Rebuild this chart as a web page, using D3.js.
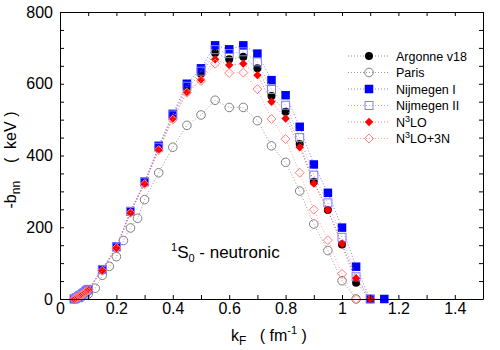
<!DOCTYPE html>
<html>
<head>
<meta charset="utf-8">
<script src="https://cdn.jsdelivr.net/npm/d3@7"></script>
<style>
  body { margin: 0; background: #fff; }
  svg text { font-family: "Liberation Sans", Arial, Helvetica, sans-serif; fill: #000; }
</style>
</head>
<body>
<div id="chart"></div>
<script>
// Dados do gráfico //
const kMain = [0.05, 0.055, 0.06, 0.065, 0.07, 0.075, 0.08, 0.085, 0.09, 0.095, 0.1,
  0.15, 0.2, 0.25, 0.3, 0.35, 0.4, 0.45, 0.5, 0.55, 0.6, 0.65, 0.7, 0.75, 0.8, 0.85,
  0.9, 0.95, 1.0, 1.05, 1.1, 1.15]
const argonne = [0, 2, 4, 6, 9, 11, 14, 16, 19, 23, 26,
  80, 143, 242, 324, 420, 510, 587, 628, 686, 668, 675, 643, 566, 522, 432,
  327, 248, 152, 45, 0, null]
const nijmegen1 = [0, 2, 4, 6, 9, 11, 14, 17, 20, 24, 27,
  83, 146, 245, 327, 427, 516, 600, 643, 707, 696, 707, 684, 610, 568, 480,
  375, 296, 199, 90, 0, 0]
const nijmegen2 = [0, 2, 4, 6, 9, 11, 14, 17, 20, 24, 27,
  82, 145, 244, 326, 423, 513, 593, 635, 695, 684, 689, 661, 584, 540, 450,
  345, 268, 172, 62, 0, null]
const n3lo = [0, 2, 4, 6, 8, 11, 13, 16, 19, 22, 26,
  79, 142, 241, 322, 417, 503, 577, 612, 668, 652, 656, 624, 550, 503, 423,
  322, 248, 154, 58, 0, null]
const n3lo3n = [0, 2, 4, 6, 8, 11, 13, 16, 19, 22, 25,
  79, 142, 240, 320, 415, 500, 575, 608, 656, 630, 631, 585, 502, 446, 352,
  249, 164, 70, 0, null, null]

const kParis = [0.05, 0.075, 0.1, 0.125, 0.15, 0.175, 0.2, 0.225, 0.25, 0.275, 0.3,
  0.35, 0.4, 0.45, 0.5, 0.55, 0.6, 0.65, 0.7, 0.75, 0.8, 0.85, 0.9, 0.95, 1.0, 1.05]
const paris = [0, 4, 14, 30, 66, 91, 118, 163, 198, 225, 277,
  352, 423, 484, 513, 554, 534, 534, 497, 427, 381, 301, 209, 135, 51, 0]

const seriesNames = ["Argonne v18", "Paris", "Nijmegen I", "Nijmegen II", "N3LO", "N3LO+3N"]

// Ticks //
const xTicks = [0, 0.1, 0.2, 0.3, 0.4, 0.5, 0.6, 0.7, 0.8, 0.9, 1, 1.1, 1.2, 1.3, 1.4, 1.5]
const xLabels = [0, 0.2, 0.4, 0.6, 0.8, 1, 1.2, 1.4]
const yTicks = d3.range(0, 801, 50)
const yLabels = [0, 200, 400, 600, 800]

// Estilo de cada série //
const styles = [
  { k: kMain, v: argonne, color: "#000000", line: "#707070", shape: "circle", fill: true },
  { k: kParis, v: paris, color: "#808080", line: "#808080", shape: "circle", fill: false },
  { k: kMain, v: nijmegen1, color: "#0000ff", line: "#6060ff", shape: "square", fill: true },
  { k: kMain, v: nijmegen2, color: "#8080ff", line: "#9090ff", shape: "square", fill: false },
  { k: kMain, v: n3lo, color: "#ff0000", line: "#ff5050", shape: "diamond", fill: true },
  { k: kMain, v: n3lo3n, color: "#ff8080", line: "#ff9090", shape: "diamond", fill: false }
]

const width = 500, height = 350
const x = d3.scaleLinear().domain([0, 1.5]).range([60, 483])
const y = d3.scaleLinear().domain([0, 800]).range([299, 12])

const svg = d3.select("#chart").append("svg")
  .attr("width", width)
  .attr("height", height)

// Desenha um marcador //
function marker(g, shape, cx, cy, color, fill) {
  let m
  if (shape === "circle") {
    m = g.append("circle").attr("cx", cx).attr("cy", cy).attr("r", fill ? 4 : 4.3)
  } else if (shape === "square") {
    const s = fill ? 8.5 : 8
    m = g.append("rect").attr("x", cx - s / 2).attr("y", cy - s / 2).attr("width", s).attr("height", s)
  } else {
    const r = fill ? 4.2 : 4.5
    m = g.append("path").attr("d", "M" + cx + "," + (cy - r) + "L" + (cx + r) + "," + cy +
      "L" + cx + "," + (cy + r) + "L" + (cx - r) + "," + cy + "Z")
  }
  if (fill) m.attr("fill", color).attr("stroke", "none")
  else m.attr("fill", "none").attr("stroke", color).attr("stroke-width", 1)
}

// Séries //
const line = d3.line()
  .defined(d => d.v !== null)
  .x(d => x(d.k))
  .y(d => y(d.v))

styles.forEach(s => {
  const pts = s.k.map((k, i) => ({ k: k, v: s.v[i] })).filter(d => d.v !== null)
  const g = svg.append("g")
  g.append("path")
    .datum(pts)
    .attr("d", line)
    .attr("fill", "none")
    .attr("stroke", s.line)
    .attr("stroke-width", 0.8)
    .attr("stroke-dasharray", "1,2")
  pts.forEach(d => marker(g, s.shape, x(d.k), y(d.v), s.color, s.fill))
})

// Eixos //
const fmt = v => xLabels.some(l => Math.abs(l - v) < 1e-9) ? String(v) : ""
const fmtY = v => yLabels.indexOf(v) >= 0 ? String(v) : ""

svg.append("g").attr("transform", "translate(0,299)")
  .call(d3.axisBottom(x).tickValues(xTicks).tickFormat(fmt).tickSizeInner(-4).tickSizeOuter(0).tickPadding(4))
svg.append("g").attr("transform", "translate(0,12)")
  .call(d3.axisTop(x).tickValues(xTicks).tickFormat("").tickSizeInner(-4).tickSizeOuter(0))
svg.append("g").attr("transform", "translate(60,0)")
  .call(d3.axisLeft(y).tickValues(yTicks).tickFormat(fmtY).tickSizeInner(-4).tickSizeOuter(0).tickPadding(7))
svg.append("g").attr("transform", "translate(483,0)")
  .call(d3.axisRight(y).tickValues(yTicks).tickFormat("").tickSizeInner(-4).tickSizeOuter(0))

svg.selectAll(".tick text").style("font-size", "16px")
svg.selectAll(".domain, .tick line").attr("stroke", "#000")

// Títulos dos eixos //
const xt = svg.append("text")
  .attr("x", 269).attr("y", 341)
  .attr("text-anchor", "middle")
  .style("font-size", "16px")
xt.append("tspan").text("k")
xt.append("tspan").attr("dy", 4).style("font-size", "12px").text("F")
xt.append("tspan").attr("dy", -4).text("\u00a0\u00a0\u00a0( fm")
xt.append("tspan").attr("dy", -7).style("font-size", "11px").text("-1")
xt.append("tspan").attr("dy", 7).text("\u00a0)")

const yt = svg.append("text")
  .attr("transform", "translate(16,160) rotate(-90)")
  .attr("text-anchor", "middle")
  .style("font-size", "16px")
yt.append("tspan").text("-b")
yt.append("tspan").attr("dy", 4).style("font-size", "12px").text("nn")
yt.append("tspan").attr("dy", -4).text("\u00a0\u00a0\u00a0\u00a0(\u00a0\u00a0keV\u00a0)")

// Anotação //
const ann = svg.append("text")
  .attr("x", 171).attr("y", 258)
  .style("font-size", "17px")
ann.append("tspan").attr("dy", -7).style("font-size", "11px").text("1")
ann.append("tspan").attr("dy", 7).text("S")
ann.append("tspan").attr("dy", 4).style("font-size", "11px").text("0")
ann.append("tspan").attr("dy", -4).text(" - neutronic")

// Legenda //
const legend = svg.append("g")
styles.forEach((s, i) => {
  const ly = 56 + i * 16.5
  const g = legend.append("g")
  g.append("line")
    .attr("x1", 348).attr("x2", 390)
    .attr("y1", ly).attr("y2", ly)
    .attr("stroke", s.line)
    .attr("stroke-width", 0.8)
    .attr("stroke-dasharray", "1,2")
  marker(g, s.shape, 369, ly, s.color, s.fill)
  const t = g.append("text")
    .attr("x", 396).attr("y", ly + 4.5)
    .style("font-size", "12.5px")
  const name = seriesNames[i]
  if (name.startsWith("N3LO")) {
    t.append("tspan").text("N")
    t.append("tspan").attr("dy", -5).style("font-size", "9px").text("3")
    t.append("tspan").attr("dy", 5).text(name.slice(2))
  } else {
    t.text(name)
  }
})
</script>
</body>
</html>
